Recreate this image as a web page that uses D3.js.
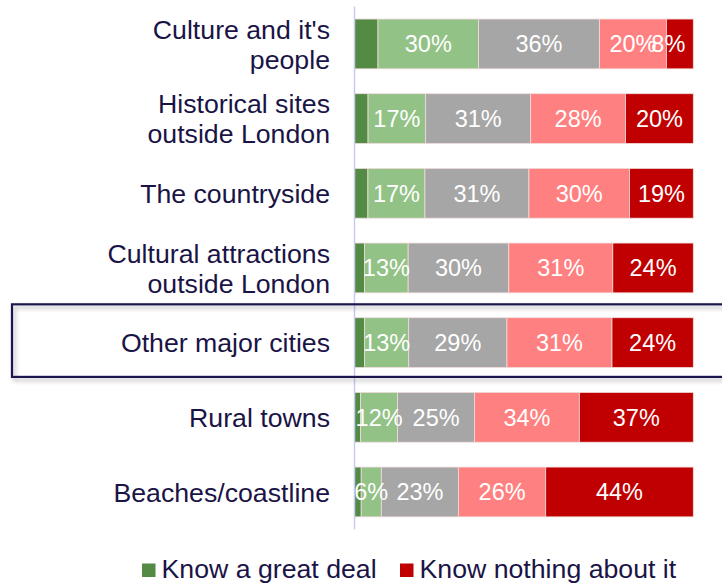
<!DOCTYPE html>
<html>
<head>
<meta charset="utf-8">
<script src="https://cdn.jsdelivr.net/npm/d3@7"></script>
<style>
  html, body { margin: 0; padding: 0; background: #ffffff; }
  svg { display: block; font-family: "Liberation Sans", Arial, sans-serif; }
</style>
</head>
<body>
<svg id="chart" width="722" height="583"></svg>
<script>
// Destinations (line breaks mark where each label wraps)
const categories = [
  "Culture and it's\npeople",
  "Historical sites\noutside London",
  "The countryside",
  "Cultural attractions\noutside London",
  "Other major cities",
  "Rural towns",
  "Beaches/coastline"
];

// Knowledge levels, from most to least
const seriesNames = [
  "Know a great deal",
  "Know a fair amount",
  "Know a little",
  "Know hardly anything",
  "Know nothing about it"
];

const greatDeal   = [7, 4, 4, 3, 3, 2, 2];
const fairAmount  = [30, 17, 17, 13, 13, 12, 6];
const little      = [36, 31, 31, 30, 29, 25, 23];
const hardly      = [20, 28, 30, 31, 31, 34, 26];
const nothing     = [8, 20, 19, 24, 24, 37, 44];

const seriesValues = [greatDeal, fairAmount, little, hardly, nothing];
const seriesColors = ["#538b45", "#92c286", "#a6a6a6", "#ff8080", "#c00000"];
const labelledSeries = [false, true, true, true, true];

const legendSeries = [0, 4];
const highlighted = "Other major cities";

const rows = categories.map((c, i) => {
  const r = { category: c };
  seriesNames.forEach((s, k) => { r[s] = seriesValues[k][i]; });
  return r;
});

const svg = d3.select("#chart");
const textColor = "#1a1446";

const x = d3.scaleLinear().domain([0, 1]).range([354.5, 693.3]);
const y = d3.scaleBand()
  .domain(categories)
  .range([6.6, 529.3])
  .paddingInner(0.333)
  .paddingOuter(0.1665);

// 100% stacked bars
const stack = d3.stack().keys(seriesNames).offset(d3.stackOffsetExpand);
const stacked = stack(rows);

const defs = svg.append("defs");
defs.append("clipPath").attr("id", "plotClip")
  .append("rect").attr("x", x(0)).attr("y", 0).attr("width", 722 - x(0)).attr("height", 583);
const shadow = defs.append("filter").attr("id", "boxShadow")
  .attr("x", "-5%").attr("y", "-30%").attr("width", "115%").attr("height", "170%");
shadow.append("feDropShadow")
  .attr("dx", 2.5).attr("dy", 3).attr("stdDeviation", 2)
  .attr("flood-color", "#000").attr("flood-opacity", 0.28);

const bars = svg.append("g");
stacked.forEach((layer, k) => {
  bars.append("g")
    .attr("fill", seriesColors[k])
    .selectAll("rect")
    .data(layer)
    .join("rect")
    .attr("x", d => x(d[0]))
    .attr("y", d => y(d.data.category))
    .attr("width", d => x(d[1]) - x(d[0]))
    .attr("height", y.bandwidth())
    .attr("stroke", "#f1dcdc")
    .attr("stroke-width", 0.8);
});

// Value labels centred in each segment, kept inside the right end of the plot
const labelRightLimit = x(1) - 8;
const labels = svg.append("g")
  .attr("clip-path", "url(#plotClip)")
  .attr("fill", "#ffffff")
  .attr("font-size", 23.5)
  .attr("text-anchor", "middle");
stacked.forEach((layer, k) => {
  if (!labelledSeries[k]) return;
  labels.selectAll(null)
    .data(layer)
    .join("text")
    .attr("y", d => y(d.data.category) + y.bandwidth() / 2 + 8.4)
    .text(d => d.data[seriesNames[k]] + "%")
    .attr("x", function (d) {
      const w = this.getComputedTextLength();
      const cx = (x(d[0]) + x(d[1])) / 2;
      return Math.min(cx, labelRightLimit - w / 2);
    });
});

// Category axis
svg.append("line")
  .attr("x1", x(0)).attr("x2", x(0))
  .attr("y1", y.range()[0]).attr("y2", y.range()[1])
  .attr("stroke", "#c9c9f2").attr("stroke-width", 1.5);

const catLabels = svg.append("g")
  .attr("fill", textColor)
  .attr("font-size", 26.7)
  .attr("text-anchor", "end");
categories.forEach(c => {
  const lines = c.split("\n");
  const cy = y(c) + y.bandwidth() / 2;
  const t = catLabels.append("text");
  lines.forEach((ln, j) => {
    t.append("tspan")
      .attr("x", 330)
      .attr("y", cy + 9.7 + (j - (lines.length - 1) / 2) * 30)
      .text(ln);
  });
});

// Highlight frame around one row
const hb = y(highlighted);
svg.append("rect")
  .attr("x", 12)
  .attr("y", hb - 13.4)
  .attr("width", 740)
  .attr("height", y.bandwidth() + 22.8)
  .attr("fill", "none")
  .attr("stroke", "#1c1850")
  .attr("stroke-width", 2.2)
  .attr("filter", "url(#boxShadow)");

// Legend
const legend = svg.append("g").attr("font-size", 26.7).attr("fill", textColor);
const legendX = [142, 400];
legendSeries.forEach((k, i) => {
  legend.append("rect")
    .attr("x", legendX[i]).attr("y", 563.5)
    .attr("width", 13.5).attr("height", 13.5)
    .attr("fill", seriesColors[k]);
  legend.append("text")
    .attr("x", legendX[i] + 19.5).attr("y", 578.3)
    .text(seriesNames[k]);
});
</script>
</body>
</html>
